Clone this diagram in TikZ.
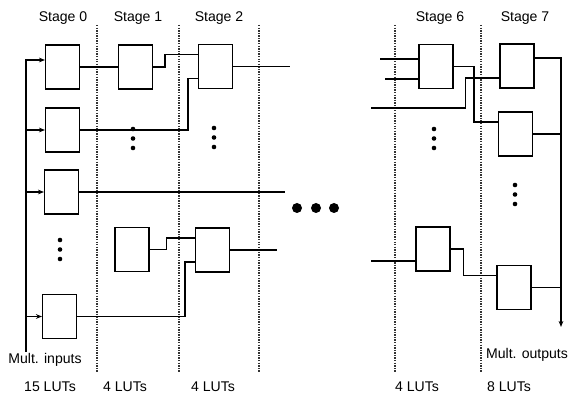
\documentclass[tikz,border=0pt]{standalone}
\usepackage{fontspec}
\setmainfont{Liberation Sans}
\usetikzlibrary{arrows.meta, calc}
\tikzset{
  lut/.style = {draw=black, fill=white, minimum width=1.02cm,
    minimum height=1.32cm, inner sep=0pt, line width=0.9pt},
  wr/.style = {draw=black, line width=1pt},
  div/.style = {draw=black!80, line width=1pt, dash pattern=on 1.2pt off 1pt},
  seta/.style = {-{Stealth[length=1.8mm, width=1.4mm]}},
  rot/.style = {font=\fontsize{12}{14}\selectfont, inner sep=1pt}
}

\begin{document}
\begin{tikzpicture}[x=0.03cm, y=0.03cm]
  \useasboundingbox (0,0) rectangle (568,398);
  % separadores
  \foreach \x in {97,179,259,395,481} \draw [div] (\x,373) -- (\x,26);
  \foreach \t/\x [count=\i] in {0/63, 1/138, 2/219, 6/440, 7/525}
    \node [rot] (st\i) at (\x,380) {Stage \t};
  \foreach \t/\x [count=\i] in {15/50, 4/125, 4/213, 4/417, 8/509}
    \node [rot] (nl\i) at (\x,11) {\t{} LUTs};

  % LUTs
  \node [lut] (a0) at (62.5,331) {};
  \node [lut] (b0) at (62.5,268) {};
  \node [lut] (c0) at (61.5,206) {};
  \node [lut] (d0) at (59.5,81.5) {};
  \node [lut] (a1) at (135.5,331) {};
  \node [lut] (b1) at (132,148.5) {};
  \node [lut] (a2) at (215.5,331.5) {};
  \node [lut] (b2) at (212.5,148) {};
  \node [lut] (a6) at (436,331.5) {};
  \node [lut] (b6) at (433,149) {};
  \node [lut] (a7) at (517,332) {};
  \node [lut] (b7) at (515.5,264) {};
  \node [lut] (c7) at (514,110.5) {};
  \foreach \x/\y in {60/158, 133/269, 214/270, 434/269, 515/213}
    \foreach \k in {0,1,2} \fill (\x,\y-\k*9.5) circle (2.3);
  \foreach \x in {297,316,334} \fill (\x,190) circle (5);

  % entradas
  \coordinate (inb) at (26,46);
  \draw [wr, seta] (inb) |- ($(a0.west)+(0,7)$);
  \foreach \n in {b0,c0,d0} \draw [wr, seta] (\n.west -| inb) -- (\n.west);
  \node [rot] (mi) at (45,38) {Mult. inputs};

  % stage 0 a 2
  \coordinate (a2o) at (290,0);
  \coordinate (c0o) at (285,0);
  \coordinate (b2o) at (277,0);
  \draw [wr] (a0) -- (a1);
  \draw [wr] (a1.east) -- ++(12,0) |- ($(a2.west)+(0,12)$);
  \draw [wr] (b0.east) -| ($(a2.west)+(-10,-12)$) -- ($(a2.west)+(0,-12)$);
  \draw [wr] (a2.east) -- (a2.east -| a2o);
  \draw [wr] (c0.east) -- (c0.east -| c0o);
  \draw [wr] (b1.east) -- ++(17,0) |- ($(b2.west)+(0,12)$);
  \draw [wr] (d0.east) -| ($(b2.west)+(-10,-12)$) -- ($(b2.west)+(0,-12)$);
  \draw [wr] (b2.east) -- (b2.east -| b2o);

  % stage 6 e 7
  \coordinate (i6a) at (380,339);
  \coordinate (i6b) at (385,319);
  \coordinate (i6c) at (371,290);
  \coordinate (i6d) at (371,137);
  \draw [wr] (i6a) -- (i6a -| a6.west);
  \draw [wr] (i6b) -- (i6b -| a6.west);
  \draw [wr] (i6c) -| ($(a7.west)+(-34,-12)$) -- ($(a7.west)+(0,-12)$);
  \draw [wr] (i6d) -- (i6d -| b6.west);
  \draw [wr] (a6.east) -| ($(b7.west)+(-24,12)$) -- ($(b7.west)+(0,12)$);
  \draw [wr] (b6.east) -| ($(c7.west)+(-33,12)$) -- ($(c7.west)+(0,12)$);

  % saidas
  \coordinate (outb) at (561,71);
  \coordinate (a7o) at ($(a7.east)+(0,8)$);
  \draw [wr, seta] (a7o) -| (outb);
  \draw [wr] (b7.east) -- (b7.east -| outb);
  \draw [wr] (c7.east) -- (c7.east -| outb);
  \node [rot] (mo) at (527,43) {Mult. outputs};
\end{tikzpicture}
\end{document}
